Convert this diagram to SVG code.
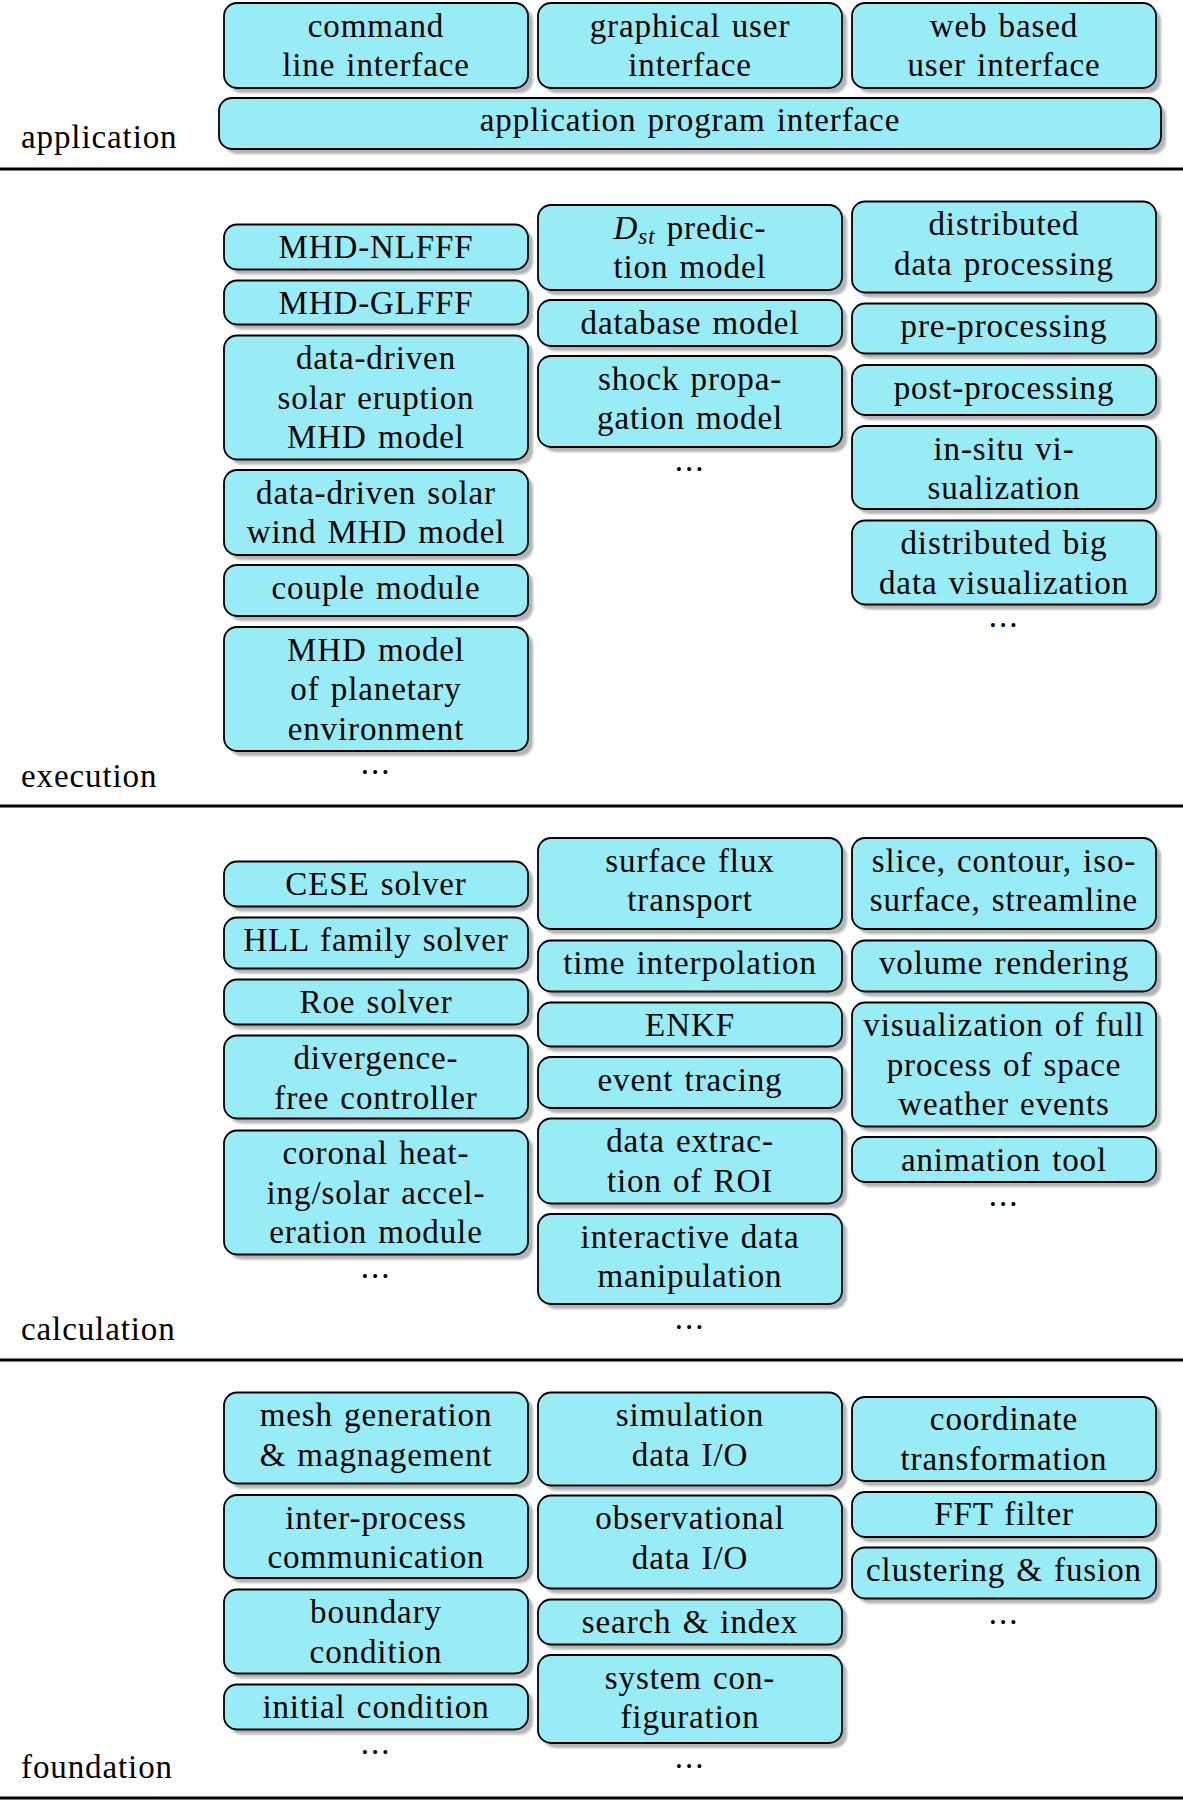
<svg xmlns="http://www.w3.org/2000/svg" width="1183" height="1800" viewBox="0 0 1183 1800">
<defs>
<filter id="blur" x="-5%" y="-20%" width="110%" height="140%"><feGaussianBlur stdDeviation="1.2"/></filter>
</defs>
<style>
text{font-family:"Liberation Serif","Times New Roman",serif;font-size:33px;fill:#000;letter-spacing:0.9px;word-spacing:2px}
.c{text-anchor:middle}
.sh{fill:#b4b4b4;filter:url(#blur)}
.bx{fill:#97ecf6;stroke:#000;stroke-width:1.8}
.sep{stroke:#000;stroke-width:3.2}
.dots{letter-spacing:2px}
</style>
<rect width="1183" height="1800" fill="#fff"/>
<g id="separators">
<line class="sep" x1="0" y1="169" x2="1183" y2="169"/>
<line class="sep" x1="0" y1="806" x2="1183" y2="806"/>
<line class="sep" x1="0" y1="1360" x2="1183" y2="1360"/>
<line class="sep" x1="0" y1="1798" x2="1183" y2="1798"/>
</g>
<g id="connectors"></g>
<g id="layer-labels">
<text x="21" y="148">application</text>
<text x="21" y="787">execution</text>
<text x="21" y="1340">calculation</text>
<text x="21" y="1778">foundation</text>
</g>

<!-- application -->
<g id="cli"><rect class="sh" x="229" y="8" width="304" height="85" rx="13"/><rect class="bx" x="224" y="3" width="304" height="85" rx="13"/><text class="c" x="376" y="36.5">command</text><text class="c" x="376" y="76">line interface</text></g>
<g id="gui"><rect class="sh" x="543" y="8" width="304" height="85" rx="13"/><rect class="bx" x="538" y="3" width="304" height="85" rx="13"/><text class="c" x="690" y="36.5">graphical user</text><text class="c" x="690" y="76">interface</text></g>
<g id="web"><rect class="sh" x="857" y="8" width="304" height="85" rx="13"/><rect class="bx" x="852" y="3" width="304" height="85" rx="13"/><text class="c" x="1004" y="36.5">web based</text><text class="c" x="1004" y="76">user interface</text></g>
<g id="api"><rect class="sh" x="224" y="103" width="942" height="51" rx="13"/><rect class="bx" x="219" y="98" width="942" height="51" rx="13"/><text class="c" x="690" y="131">application program interface</text></g>

<!-- execution col1 -->
<g id="mhd-nlfff"><rect class="sh" x="229" y="229.5" width="304" height="45" rx="13"/><rect class="bx" x="224" y="224.5" width="304" height="45" rx="13"/><text class="c" x="376" y="258">MHD-NLFFF</text></g>
<g id="mhd-glfff"><rect class="sh" x="229" y="285.5" width="304" height="44" rx="13"/><rect class="bx" x="224" y="280.5" width="304" height="44" rx="13"/><text class="c" x="376" y="314">MHD-GLFFF</text></g>
<g id="eruption"><rect class="sh" x="229" y="340.5" width="304" height="124" rx="13"/><rect class="bx" x="224" y="335.5" width="304" height="124" rx="13"/><text class="c" x="376" y="369">data-driven</text><text class="c" x="376" y="408.5">solar eruption</text><text class="c" x="376" y="448">MHD model</text></g>
<g id="solarwind"><rect class="sh" x="229" y="475" width="304" height="85" rx="13"/><rect class="bx" x="224" y="470" width="304" height="85" rx="13"/><text class="c" x="376" y="503.5">data-driven solar</text><text class="c" x="376" y="543">wind MHD model</text></g>
<g id="couple"><rect class="sh" x="229" y="570" width="304" height="51" rx="13"/><rect class="bx" x="224" y="565" width="304" height="51" rx="13"/><text class="c" x="376" y="598.5">couple module</text></g>
<g id="planetary"><rect class="sh" x="229" y="632" width="304" height="124" rx="13"/><rect class="bx" x="224" y="627" width="304" height="124" rx="13"/><text class="c" x="376" y="660.5">MHD model</text><text class="c" x="376" y="700">of planetary</text><text class="c" x="376" y="739.5">environment</text></g>
<text class="c dots" x="376" y="774">...</text>

<!-- execution col2 -->
<g id="dst"><rect class="sh" x="543" y="210" width="304" height="85" rx="13"/><rect class="bx" x="538" y="205" width="304" height="85" rx="13"/><text class="c" x="690" y="238.5"><tspan font-style="italic">D</tspan><tspan font-style="italic" font-size="23" dy="5">st</tspan><tspan dy="-5"> predic-</tspan></text><text class="c" x="690" y="278">tion model</text></g>
<g id="database"><rect class="sh" x="543" y="305" width="304" height="46" rx="13"/><rect class="bx" x="538" y="300" width="304" height="46" rx="13"/><text class="c" x="690" y="333.5">database model</text></g>
<g id="shock"><rect class="sh" x="543" y="361" width="304" height="91" rx="13"/><rect class="bx" x="538" y="356" width="304" height="91" rx="13"/><text class="c" x="690" y="389.5">shock propa-</text><text class="c" x="690" y="429">gation model</text></g>
<text class="c dots" x="690" y="471">...</text>

<!-- execution col3 -->
<g id="distproc"><rect class="sh" x="857" y="206.5" width="304" height="91" rx="13"/><rect class="bx" x="852" y="201.5" width="304" height="91" rx="13"/><text class="c" x="1004" y="235">distributed</text><text class="c" x="1004" y="274.5">data processing</text></g>
<g id="preproc"><rect class="sh" x="857" y="308.5" width="304" height="50" rx="13"/><rect class="bx" x="852" y="303.5" width="304" height="50" rx="13"/><text class="c" x="1004" y="337">pre-processing</text></g>
<g id="postproc"><rect class="sh" x="857" y="370" width="304" height="50" rx="13"/><rect class="bx" x="852" y="365" width="304" height="50" rx="13"/><text class="c" x="1004" y="398.5">post-processing</text></g>
<g id="insitu"><rect class="sh" x="857" y="431" width="304" height="83" rx="13"/><rect class="bx" x="852" y="426" width="304" height="83" rx="13"/><text class="c" x="1004" y="459.5">in-situ vi-</text><text class="c" x="1004" y="499">sualization</text></g>
<g id="bigdata"><rect class="sh" x="857" y="525.5" width="304" height="84" rx="13"/><rect class="bx" x="852" y="520.5" width="304" height="84" rx="13"/><text class="c" x="1004" y="554">distributed big</text><text class="c" x="1004" y="593.5">data visualization</text></g>
<text class="c dots" x="1004" y="627">...</text>

<!-- calculation col1 -->
<g id="cese"><rect class="sh" x="229" y="866.5" width="304" height="45" rx="13"/><rect class="bx" x="224" y="861.5" width="304" height="45" rx="13"/><text class="c" x="376" y="895">CESE solver</text></g>
<g id="hll"><rect class="sh" x="229" y="922.5" width="304" height="51" rx="13"/><rect class="bx" x="224" y="917.5" width="304" height="51" rx="13"/><text class="c" x="376" y="951">HLL family solver</text></g>
<g id="roe"><rect class="sh" x="229" y="984.5" width="304" height="45" rx="13"/><rect class="bx" x="224" y="979.5" width="304" height="45" rx="13"/><text class="c" x="376" y="1013">Roe solver</text></g>
<g id="divfree"><rect class="sh" x="229" y="1040.5" width="304" height="83" rx="13"/><rect class="bx" x="224" y="1035.5" width="304" height="83" rx="13"/><text class="c" x="376" y="1069">divergence-</text><text class="c" x="376" y="1108.5">free controller</text></g>
<g id="coronal"><rect class="sh" x="229" y="1135.5" width="304" height="124" rx="13"/><rect class="bx" x="224" y="1130.5" width="304" height="124" rx="13"/><text class="c" x="376" y="1164">coronal heat-</text><text class="c" x="376" y="1203.5">ing/solar accel-</text><text class="c" x="376" y="1243">eration module</text></g>
<text class="c dots" x="376" y="1278">...</text>

<!-- calculation col2 -->
<g id="sft"><rect class="sh" x="543" y="843" width="304" height="91" rx="13"/><rect class="bx" x="538" y="838" width="304" height="91" rx="13"/><text class="c" x="690" y="871.5">surface flux</text><text class="c" x="690" y="911">transport</text></g>
<g id="timeinterp"><rect class="sh" x="543" y="945.5" width="304" height="51" rx="13"/><rect class="bx" x="538" y="940.5" width="304" height="51" rx="13"/><text class="c" x="690" y="974">time interpolation</text></g>
<g id="enkf"><rect class="sh" x="543" y="1007.5" width="304" height="44" rx="13"/><rect class="bx" x="538" y="1002.5" width="304" height="44" rx="13"/><text class="c" x="690" y="1036">ENKF</text></g>
<g id="eventtrace"><rect class="sh" x="543" y="1062" width="304" height="51" rx="13"/><rect class="bx" x="538" y="1057" width="304" height="51" rx="13"/><text class="c" x="690" y="1090.5">event tracing</text></g>
<g id="roi"><rect class="sh" x="543" y="1123.5" width="304" height="85" rx="13"/><rect class="bx" x="538" y="1118.5" width="304" height="85" rx="13"/><text class="c" x="690" y="1152">data extrac-</text><text class="c" x="690" y="1191.5">tion of ROI</text></g>
<g id="interactive"><rect class="sh" x="543" y="1219" width="304" height="90" rx="13"/><rect class="bx" x="538" y="1214" width="304" height="90" rx="13"/><text class="c" x="690" y="1247.5">interactive data</text><text class="c" x="690" y="1287">manipulation</text></g>
<text class="c dots" x="690" y="1329">...</text>

<!-- calculation col3 -->
<g id="slice"><rect class="sh" x="857" y="843" width="304" height="91" rx="13"/><rect class="bx" x="852" y="838" width="304" height="91" rx="13"/><text class="c" x="1004" y="871.5">slice, contour, iso-</text><text class="c" x="1004" y="911">surface, streamline</text></g>
<g id="volume"><rect class="sh" x="857" y="945.5" width="304" height="51" rx="13"/><rect class="bx" x="852" y="940.5" width="304" height="51" rx="13"/><text class="c" x="1004" y="974">volume rendering</text></g>
<g id="fullprocess"><rect class="sh" x="857" y="1007.5" width="304" height="124" rx="13"/><rect class="bx" x="852" y="1002.5" width="304" height="124" rx="13"/><text class="c" x="1004" y="1036">visualization of full</text><text class="c" x="1004" y="1075.5">process of space</text><text class="c" x="1004" y="1115">weather events</text></g>
<g id="animation"><rect class="sh" x="857" y="1142" width="304" height="45" rx="13"/><rect class="bx" x="852" y="1137" width="304" height="45" rx="13"/><text class="c" x="1004" y="1170.5">animation tool</text></g>
<text class="c dots" x="1004" y="1206">...</text>

<!-- foundation col1 -->
<g id="mesh"><rect class="sh" x="229" y="1397.5" width="304" height="91" rx="13"/><rect class="bx" x="224" y="1392.5" width="304" height="91" rx="13"/><text class="c" x="376" y="1426">mesh generation</text><text class="c" x="376" y="1465.5">&amp; magnagement</text></g>
<g id="ipc"><rect class="sh" x="229" y="1500" width="304" height="83" rx="13"/><rect class="bx" x="224" y="1495" width="304" height="83" rx="13"/><text class="c" x="376" y="1528.5">inter-process</text><text class="c" x="376" y="1568">communication</text></g>
<g id="boundary"><rect class="sh" x="229" y="1594.5" width="304" height="84" rx="13"/><rect class="bx" x="224" y="1589.5" width="304" height="84" rx="13"/><text class="c" x="376" y="1623">boundary</text><text class="c" x="376" y="1662.5">condition</text></g>
<g id="initial"><rect class="sh" x="229" y="1689.5" width="304" height="45" rx="13"/><rect class="bx" x="224" y="1684.5" width="304" height="45" rx="13"/><text class="c" x="376" y="1718">initial condition</text></g>
<text class="c dots" x="376" y="1754">...</text>

<!-- foundation col2 -->
<g id="simio"><rect class="sh" x="543" y="1397.5" width="304" height="93" rx="13"/><rect class="bx" x="538" y="1392.5" width="304" height="93" rx="13"/><text class="c" x="690" y="1426">simulation</text><text class="c" x="690" y="1465.5">data I/O</text></g>
<g id="obsio"><rect class="sh" x="543" y="1500.5" width="304" height="93" rx="13"/><rect class="bx" x="538" y="1495.5" width="304" height="93" rx="13"/><text class="c" x="690" y="1529">observational</text><text class="c" x="690" y="1568.5">data I/O</text></g>
<g id="search"><rect class="sh" x="543" y="1604.5" width="304" height="45" rx="13"/><rect class="bx" x="538" y="1599.5" width="304" height="45" rx="13"/><text class="c" x="690" y="1633">search &amp; index</text></g>
<g id="sysconf"><rect class="sh" x="543" y="1660" width="304" height="88" rx="13"/><rect class="bx" x="538" y="1655" width="304" height="88" rx="13"/><text class="c" x="690" y="1688.5">system con-</text><text class="c" x="690" y="1728">figuration</text></g>
<text class="c dots" x="690" y="1768">...</text>

<!-- foundation col3 -->
<g id="coord"><rect class="sh" x="857" y="1402" width="304" height="84" rx="13"/><rect class="bx" x="852" y="1397" width="304" height="84" rx="13"/><text class="c" x="1004" y="1430">coordinate</text><text class="c" x="1004" y="1469.5">transformation</text></g>
<g id="fft"><rect class="sh" x="857" y="1497" width="304" height="45" rx="13"/><rect class="bx" x="852" y="1492" width="304" height="45" rx="13"/><text class="c" x="1004" y="1525">FFT filter</text></g>
<g id="cluster"><rect class="sh" x="857" y="1552.5" width="304" height="51" rx="13"/><rect class="bx" x="852" y="1547.5" width="304" height="51" rx="13"/><text class="c" x="1004" y="1581">clustering &amp; fusion</text></g>
<text class="c dots" x="1004" y="1624">...</text>
</svg>
